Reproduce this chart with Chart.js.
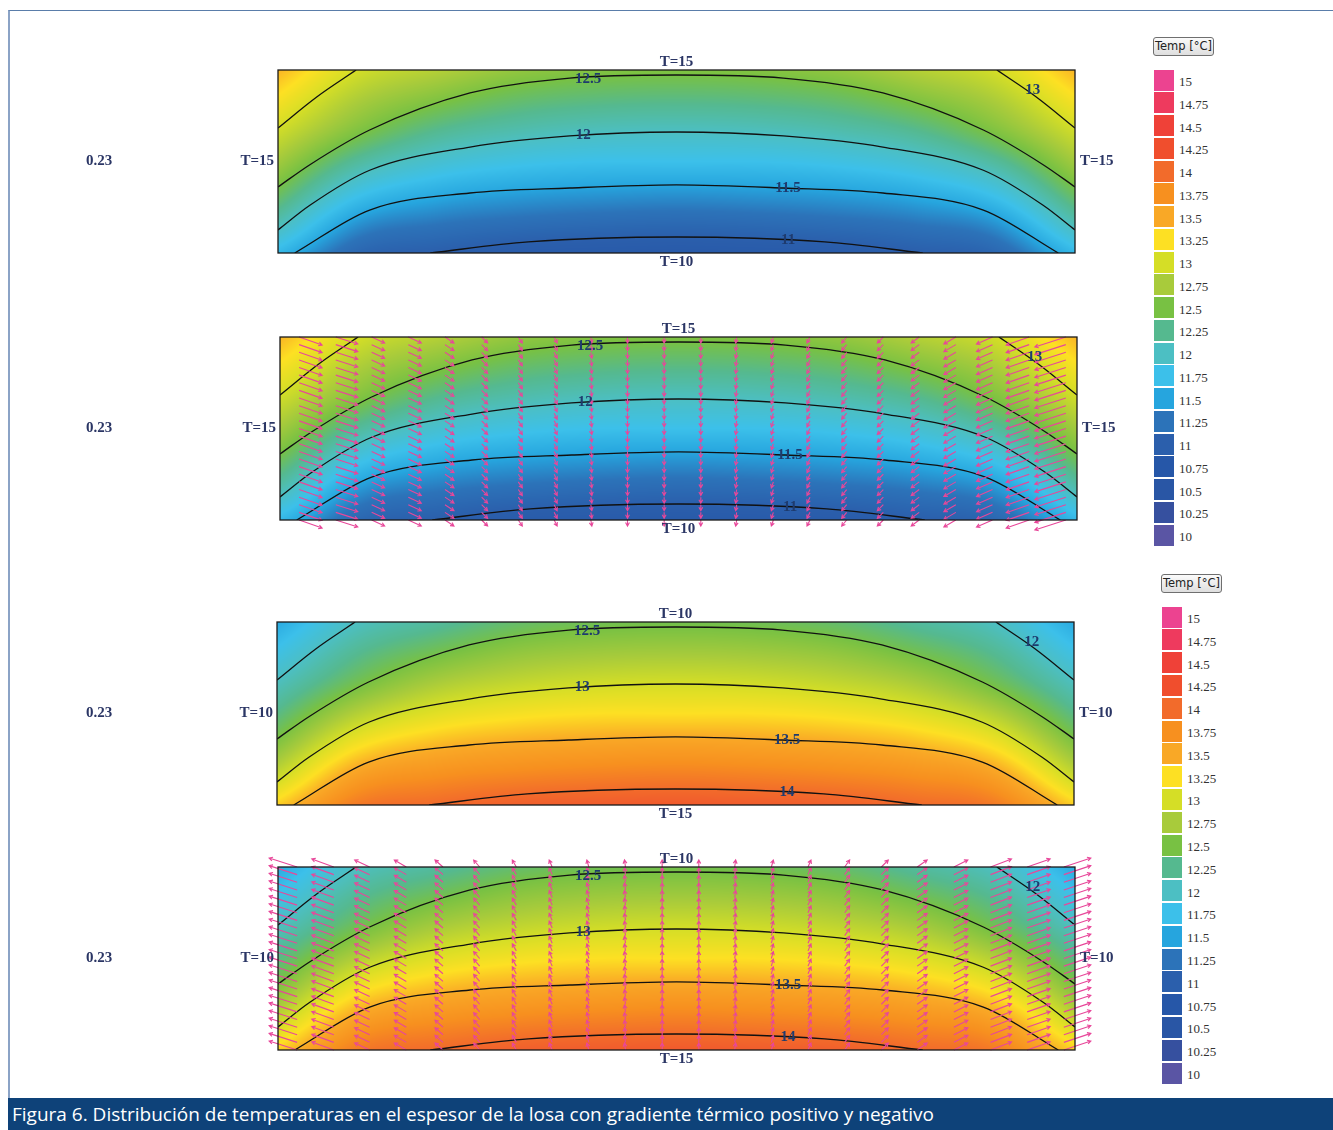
<!DOCTYPE html>
<html lang="es">
<head>
<meta charset="utf-8">
<title>Figura 6</title>
<script src="https://cdn.jsdelivr.net/npm/chart.js@4.4.1/dist/chart.umd.min.js"></script>
<style>
  html, body { margin: 0; padding: 0; background: #fff; }
  body { width: 1333px; height: 1130px; position: relative; overflow: hidden; }
  .frame { position: absolute; left: 8px; top: 10px; right: 0; bottom: 0;
           border-left: 2px solid #8ba3c6; border-top: 1px solid #5a7daa; }
  canvas.panel { position: absolute; left: 0; }
  .scale-btn { position: absolute; width: 59px; height: 17px; box-sizing: content-box;
               border: 1px solid #6f6f6f; border-radius: 3px;
               background: linear-gradient(#fbfbfb, #dedede);
               font: 11.5px "DejaVu Sans", sans-serif; color: #222;
               text-align: center; line-height: 17px; }
  .swatch { position: absolute; width: 20px; height: 21px; }
  .tick { position: absolute; font: 13px "Liberation Serif", serif; color: #333; line-height: 14px; }
  .caption { position: absolute; left: 8px; top: 1098px; width: 1325px; height: 32px;
             background: #0e4279; color: #fff; font: 19px "Open Sans", sans-serif;
             line-height: 32px; padding-left: 4px; box-sizing: border-box; white-space: nowrap; }
</style>
</head>
<body>
<div class="frame"></div>
<canvas id="p1" class="panel" width="1140" height="250"></canvas>
<canvas id="p2" class="panel" width="1140" height="250"></canvas>
<canvas id="p3" class="panel" width="1140" height="250"></canvas>
<canvas id="p4" class="panel" width="1140" height="250"></canvas>
<div id="scales"></div>
<div class="caption">Figura 6. Distribución de temperaturas en el espesor de la losa con gradiente térmico positivo y negativo</div>
<script>
// colour scale (°C), top to bottom as listed in the key
const legendTicks = ['15', '14.75', '14.5', '14.25', '14', '13.75', '13.5', '13.25', '13', '12.75', '12.5',
  '12.25', '12', '11.75', '11.5', '11.25', '11', '10.75', '10.5', '10.25', '10'];
const legendColors = ['#ec4390', '#ee3a5e', '#ef4138', '#f04e2d', '#f26b2b', '#f7901f', '#f9a826', '#fde023',
  '#d5de26', '#a8cb3b', '#78c143', '#55b98f', '#4cbfc3', '#3cc0ea', '#26a5de', '#2c73b9',
  '#2b5fac', '#2657a8', '#2956a5', '#36509f', '#5a55a4'];

// section mesh: position across the slab (m) and depth (m)
const nodeX = [0, 0.1, 0.2, 0.3, 0.4, 0.5, 0.6, 0.7, 0.8, 0.9, 1.0];
const nodeDepth = [0, 0.0383, 0.0767, 0.115, 0.1533, 0.1917, 0.23];

// nodal temperatures, warm top face (rows = depth)
const fieldPos = [
  [13.45, 13.00, 12.82, 12.64, 12.56, 12.54, 12.56, 12.64, 12.82, 13.00, 13.45],
  [13.21, 12.77, 12.54, 12.37, 12.30, 12.28, 12.30, 12.37, 12.54, 12.77, 13.21],
  [12.97, 12.54, 12.24, 12.10, 12.03, 12.01, 12.03, 12.10, 12.24, 12.54, 12.97],
  [12.72, 12.19, 11.92, 11.80, 11.75, 11.75, 11.75, 11.80, 11.92, 12.19, 12.72],
  [12.44, 11.81, 11.58, 11.49, 11.45, 11.43, 11.45, 11.49, 11.58, 11.81, 12.44],
  [12.09, 11.43, 11.27, 11.20, 11.16, 11.14, 11.16, 11.20, 11.27, 11.43, 12.09],
  [11.67, 11.10, 10.99, 10.90, 10.87, 10.85, 10.87, 10.90, 10.99, 11.10, 11.67]
];
// nodal temperatures, warm bottom face
const fieldNeg = [
  [11.55, 12.00, 12.18, 12.36, 12.44, 12.46, 12.44, 12.36, 12.18, 12.00, 11.55],
  [11.79, 12.23, 12.46, 12.63, 12.70, 12.72, 12.70, 12.63, 12.46, 12.23, 11.79],
  [12.03, 12.46, 12.76, 12.90, 12.97, 12.99, 12.97, 12.90, 12.76, 12.46, 12.03],
  [12.28, 12.81, 13.08, 13.20, 13.25, 13.25, 13.25, 13.20, 13.08, 12.81, 12.28],
  [12.56, 13.19, 13.42, 13.51, 13.55, 13.57, 13.55, 13.51, 13.42, 13.19, 12.56],
  [12.91, 13.57, 13.73, 13.80, 13.84, 13.86, 13.84, 13.80, 13.73, 13.57, 12.91],
  [13.33, 13.90, 14.01, 14.10, 14.13, 14.15, 14.13, 14.10, 14.01, 13.90, 13.33]
];

// isotherm traces {x, depth}
const isoCornerL = [[0, 0.0729], [0.049, 0.0336], [0.098, 0]];
const isoCornerR = [[0.902, 0], [0.951, 0.0336], [1, 0.0729]];
const isoA = [[0, 0.147], [0.040, 0.119], [0.115, 0.0754], [0.241, 0.0289], [0.366, 0.0101], [0.5, 0.0063],
  [0.634, 0.0101], [0.759, 0.0289], [0.885, 0.0754], [0.960, 0.119], [1, 0.147]];
const isoB = [[0, 0.201], [0.040, 0.170], [0.115, 0.126], [0.241, 0.0968], [0.366, 0.0829], [0.5, 0.0779],
  [0.634, 0.0829], [0.759, 0.0968], [0.885, 0.126], [0.960, 0.170], [1, 0.201]];
const isoC = [[0.021, 0.23], [0.115, 0.176], [0.241, 0.1546], [0.366, 0.1483], [0.5, 0.1445],
  [0.634, 0.1483], [0.759, 0.1546], [0.885, 0.176], [0.979, 0.23]];
const isoD = [[0.191, 0.23], [0.314, 0.216], [0.5, 0.2099], [0.686, 0.216], [0.809, 0.23]];

// isotherm values per case (corner, A, B, C, D) and where each value is printed
const levelsPos = ['13', '12.5', '12', '11.5', '11'];
const levelsNeg = ['12', '12.5', '13', '13.5', '14'];
const levelLabelAt = [[0.947, 0.025], [0.389, 0.0113], [0.383, 0.0817], [0.640, 0.148], [0.640, 0.214]];

// heat-flow vectors: mesh columns, rows, and components per column
const arrowX = [0.024, 0.070, 0.115, 0.161, 0.207, 0.253, 0.299, 0.344, 0.390, 0.436, 0.482,
  0.528, 0.573, 0.619, 0.665, 0.711, 0.757, 0.802, 0.848, 0.894, 0.940, 0.986];
const arrowDepth = [0, 0.0096, 0.0192, 0.0288, 0.0383, 0.0479, 0.0575, 0.0671, 0.0767, 0.0863, 0.0958,
  0.1054, 0.115, 0.1246, 0.1342, 0.1438, 0.1533, 0.1629, 0.1725, 0.1821, 0.1917, 0.2013, 0.2108, 0.2204, 0.23];
const fluxXPos = [23, 22, 13, 13, 9, 6, 4, 3, 1, 0, 0, 0, -1, -2, -3, -5, -6, -8, -12, -16, -23, -31];
const fluxZPos = [8, 7, 6, 6, 6, 6, 6, 6, 6, 6, 6, 6, 6, 6, 6, 6, 6, 6, 7, 7, 8, 10];
const fluxXNeg = [-28, -22, -15, -12, -8, -6, -4, -3, -2, -1, 0, 0, 1, 2, 3, 5, 7, 10, 14, 21, 23, 27];
const fluxZNeg = [-9, -8, -7, -7, -7, -7, -7, -7, -7, -7, -7, -7, -7, -7, -7, -7, -7, -7, -7, -8, -8, -9];

const thickness = '0.23';

// ---------------------------------------------------------------------------

const rampVals = legendTicks.map(Number).reverse();
const rampRgb = legendColors.slice().reverse().map(h => [1, 3, 5].map(i => parseInt(h.substr(i, 2), 16)));

function tempColor(t) {
  if (t <= rampVals[0]) return rampRgb[0];
  const last = rampVals.length - 1;
  if (t >= rampVals[last]) return rampRgb[last];
  let i = 0;
  while (rampVals[i + 1] < t) i++;
  const f = (t - rampVals[i]) / (rampVals[i + 1] - rampVals[i]);
  const a = rampRgb[i], b = rampRgb[i + 1];
  return [a[0] + (b[0] - a[0]) * f, a[1] + (b[1] - a[1]) * f, a[2] + (b[2] - a[2]) * f];
}

function cell(arr, v) {
  let i = 0;
  while (i < arr.length - 2 && arr[i + 1] < v) i++;
  const f = Math.min(1, Math.max(0, (v - arr[i]) / (arr[i + 1] - arr[i])));
  return [i, f];
}

// Catmull-Rom between nodal values, extrapolating linearly past the edges
function cr(p0, p1, p2, p3, t) {
  return 0.5 * (2 * p1 + (p2 - p0) * t + (2 * p0 - 5 * p1 + 4 * p2 - p3) * t * t + (3 * p1 - p0 - 3 * p2 + p3) * t * t * t);
}
function at(row, i) {
  if (i < 0) return 2 * row[0] - row[1];
  if (i >= row.length) return 2 * row[row.length - 1] - row[row.length - 2];
  return row[i];
}
function rowAt(field, j) {
  if (j < 0) return field[0].map((v, i) => 2 * v - field[1][i]);
  if (j >= field.length) return field[field.length - 1].map((v, i) => 2 * v - field[field.length - 2][i]);
  return field[j];
}
function sampleField(field, x, d) {
  const [i, fx] = cell(nodeX, x);
  const [j, fy] = cell(nodeDepth, d);
  const col = [-1, 0, 1, 2].map(o => {
    const r = rowAt(field, j + o);
    return cr(at(r, i - 1), at(r, i), at(r, i + 1), at(r, i + 2), fx);
  });
  return cr(col[0], col[1], col[2], col[3], fy);
}

function drawArrow(ctx, x0, y0, x1, y1) {
  const a = Math.atan2(y1 - y0, x1 - x0), h = 4;
  ctx.beginPath();
  ctx.moveTo(x0, y0);
  ctx.lineTo(x1, y1);
  ctx.moveTo(x1 - h * Math.cos(a - 0.5), y1 - h * Math.sin(a - 0.5));
  ctx.lineTo(x1, y1);
  ctx.lineTo(x1 - h * Math.cos(a + 0.5), y1 - h * Math.sin(a + 0.5));
  ctx.stroke();
}

const serifBold = 'bold 15px "Liberation Serif", "DejaVu Serif", serif';

function sectionPlugin(p) {
  return {
    id: 'section',
    beforeDatasetsDraw(chart) {
      const { left, top, width, height } = chart.chartArea;
      const xs = chart.scales.x, ys = chart.scales.y;
      const w = Math.round(width), h = Math.round(height);
      const off = document.createElement('canvas');
      off.width = w; off.height = h;
      const octx = off.getContext('2d');
      const img = octx.createImageData(w, h);
      for (let j = 0; j < h; j++) {
        const d = ys.getValueForPixel(top + j + 0.5);
        for (let i = 0; i < w; i++) {
          const c = tempColor(sampleField(p.field, xs.getValueForPixel(left + i + 0.5), d));
          const k = (j * w + i) * 4;
          img.data[k] = c[0]; img.data[k + 1] = c[1]; img.data[k + 2] = c[2]; img.data[k + 3] = 255;
        }
      }
      octx.putImageData(img, 0, 0);
      chart.ctx.drawImage(off, left, top);
    },
    afterDatasetsDraw(chart) {
      const ctx = chart.ctx;
      const { left, top, right, bottom } = chart.chartArea;
      const xs = chart.scales.x, ys = chart.scales.y;
      ctx.save();

      if (p.fluxX) {
        ctx.strokeStyle = '#e8479a';
        ctx.lineWidth = 1.1;
        arrowX.forEach((ax, k) => {
          const px = xs.getPixelForValue(ax);
          arrowDepth.forEach(ad => {
            const py = ys.getPixelForValue(ad);
            drawArrow(ctx, px, py, px + p.fluxX[k], py + p.fluxZ[k]);
          });
        });
      }

      ctx.strokeStyle = '#1a1a1a';
      ctx.lineWidth = 1.3;
      ctx.strokeRect(left, top, right - left, bottom - top);

      ctx.font = serifBold;
      ctx.fillStyle = '#1e3b6e';
      ctx.textAlign = 'center';
      ctx.textBaseline = 'middle';
      p.levels.forEach((lv, i) => {
        const [x, d] = levelLabelAt[i];
        ctx.fillText(lv, xs.getPixelForValue(x), ys.getPixelForValue(d));
      });

      const cx = (left + right) / 2, cy = (top + bottom) / 2;
      ctx.fillStyle = '#2b3665';
      ctx.fillText(p.topT, cx, top - 8);
      ctx.fillText(p.bottomT, cx, bottom + 9);
      ctx.fillText(thickness, 99, cy);
      ctx.textAlign = 'right';
      ctx.fillText(p.sideT, left - 4, cy);
      ctx.textAlign = 'left';
      ctx.fillText(p.sideT, right + 5, cy);
      ctx.restore();
    }
  };
}

function isoDataset(pts) {
  return {
    data: pts.map(([x, d]) => ({ x: x, y: d })),
    showLine: true,
    borderColor: '#111',
    borderWidth: 1.3,
    pointRadius: 0,
    cubicInterpolationMode: 'monotone',
    fill: false
  };
}

function makePanel(id, rect, p) {
  const canvas = document.getElementById(id);
  const padTop = 40;
  canvas.style.top = (rect.top - padTop) + 'px';
  new Chart(canvas.getContext('2d'), {
    type: 'scatter',
    data: { datasets: [isoCornerL, isoCornerR, isoA, isoB, isoC, isoD].map(isoDataset) },
    options: {
      responsive: false,
      animation: false,
      devicePixelRatio: 1,
      events: [],
      layout: {
        padding: {
          left: rect.left,
          right: canvas.width - rect.right,
          top: padTop,
          bottom: canvas.height - padTop - (rect.bottom - rect.top)
        }
      },
      scales: {
        x: { type: 'linear', min: 0, max: 1, display: false },
        y: { type: 'linear', min: 0, max: 0.23, reverse: true, display: false }
      },
      plugins: { legend: { display: false }, tooltip: { enabled: false } }
    },
    plugins: [sectionPlugin(p)]
  });
}

makePanel('p1', { left: 278, top: 70, right: 1075, bottom: 253 },
  { field: fieldPos, levels: levelsPos, topT: 'T=15', bottomT: 'T=10', sideT: 'T=15' });
makePanel('p2', { left: 280, top: 337, right: 1077, bottom: 520 },
  { field: fieldPos, levels: levelsPos, topT: 'T=15', bottomT: 'T=10', sideT: 'T=15', fluxX: fluxXPos, fluxZ: fluxZPos });
makePanel('p3', { left: 277, top: 622, right: 1074, bottom: 805 },
  { field: fieldNeg, levels: levelsNeg, topT: 'T=10', bottomT: 'T=15', sideT: 'T=10' });
makePanel('p4', { left: 278, top: 867, right: 1075, bottom: 1050 },
  { field: fieldNeg, levels: levelsNeg, topT: 'T=10', bottomT: 'T=15', sideT: 'T=10', fluxX: fluxXNeg, fluxZ: fluxZNeg });

// colour keys
function colourKey(x, btnTop, firstCentre, pitch) {
  const host = document.getElementById('scales');
  const btn = document.createElement('div');
  btn.className = 'scale-btn';
  btn.style.left = x + 'px';
  btn.style.top = btnTop + 'px';
  btn.textContent = 'Temp [°C]';
  host.appendChild(btn);
  legendTicks.forEach((t, i) => {
    const cyk = firstCentre + i * pitch;
    const sw = document.createElement('div');
    sw.className = 'swatch';
    sw.style.left = (x + 1) + 'px';
    sw.style.top = (cyk - 10.5) + 'px';
    sw.style.background = legendColors[i];
    host.appendChild(sw);
    const lb = document.createElement('div');
    lb.className = 'tick';
    lb.style.left = (x + 26) + 'px';
    lb.style.top = (cyk - 5) + 'px';
    lb.textContent = t;
    host.appendChild(lb);
  });
}
colourKey(1153, 37, 80, 22.75);
colourKey(1161, 574, 617, 22.8);
</script>
</body>
</html>
